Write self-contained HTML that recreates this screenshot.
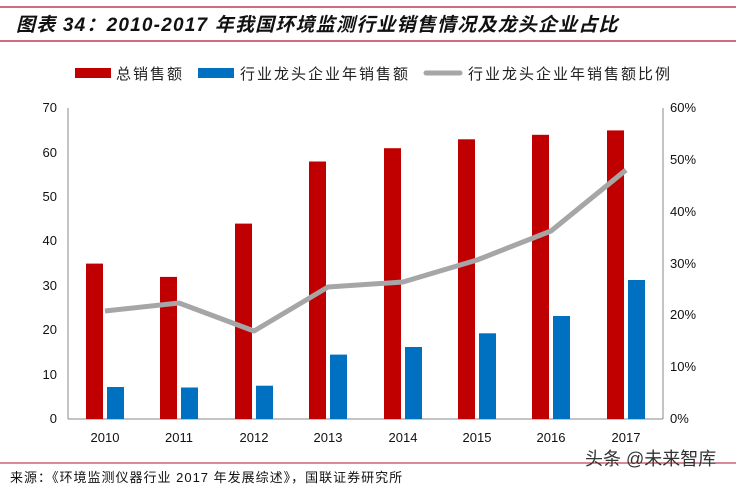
<!DOCTYPE html>
<html><head><meta charset="utf-8"><style>
body{margin:0;background:#fff;width:736px;height:489px;overflow:hidden}
svg text{font-family:"Liberation Sans","Noto Sans CJK SC",sans-serif}
</style></head><body>
<svg width="736" height="489" xmlns="http://www.w3.org/2000/svg">
<line x1="0" y1="7" x2="736" y2="7" stroke="#b5142e" stroke-width="1.2"/>
<line x1="0" y1="41" x2="736" y2="41" stroke="#b5142e" stroke-width="1.2"/>
<text x="16" y="31" font-size="19" font-weight="bold" font-style="italic" fill="#111" letter-spacing="1.2">图表 34：2010-2017 年我国环境监测行业销售情况及龙头企业占比</text>
<rect x="75" y="68" width="36" height="10" fill="#c00000"/>
<text x="116" y="79" font-size="15" fill="#222" letter-spacing="2">总销售额</text>
<rect x="198" y="68" width="36" height="10" fill="#0070c0"/>
<text x="240" y="79" font-size="15" fill="#222" letter-spacing="2">行业龙头企业年销售额</text>
<line x1="426" y1="73" x2="460" y2="73" stroke="#a6a6a6" stroke-width="5" stroke-linecap="round"/>
<text x="468" y="79" font-size="15" fill="#222" letter-spacing="2">行业龙头企业年销售额比例</text>
<g stroke="#888" stroke-width="1">
<line x1="68" y1="108" x2="68" y2="419"/>
<line x1="663" y1="108" x2="663" y2="419"/>
<line x1="68" y1="419" x2="663" y2="419"/>
</g>
<g font-size="13" fill="#111" text-anchor="end">
<text x="57" y="423">0</text><text x="57" y="379">10</text><text x="57" y="334">20</text><text x="57" y="290">30</text><text x="57" y="245">40</text><text x="57" y="201">50</text><text x="57" y="157">60</text><text x="57" y="112">70</text>
</g>
<g font-size="13" fill="#111">
<text x="670" y="423">0%</text><text x="670" y="371">10%</text><text x="670" y="319">20%</text><text x="670" y="268">30%</text><text x="670" y="216">40%</text><text x="670" y="164">50%</text><text x="670" y="112">60%</text>
</g>
<g font-size="13" fill="#111" text-anchor="middle">
<text x="105" y="442">2010</text><text x="179" y="442">2011</text><text x="254" y="442">2012</text><text x="328" y="442">2013</text><text x="403" y="442">2014</text><text x="477" y="442">2015</text><text x="551" y="442">2016</text><text x="626" y="442">2017</text>
</g>
<g fill="#c00000">
<rect x="86" y="263.6" width="17" height="155.4"/>
<rect x="160" y="276.9" width="17" height="142.1"/>
<rect x="235" y="223.6" width="17" height="195.4"/>
<rect x="309" y="161.5" width="17" height="257.5"/>
<rect x="384" y="148.2" width="17" height="270.8"/>
<rect x="458" y="139.3" width="17" height="279.7"/>
<rect x="532" y="134.8" width="17" height="284.2"/>
<rect x="607" y="130.4" width="17" height="288.6"/>
</g>
<g fill="#0070c0">
<rect x="107" y="387" width="17" height="32"/>
<rect x="181" y="387.5" width="17" height="31.5"/>
<rect x="256" y="385.7" width="17" height="33.3"/>
<rect x="330" y="354.6" width="17" height="64.4"/>
<rect x="405" y="347" width="17" height="72"/>
<rect x="479" y="333.3" width="17" height="85.7"/>
<rect x="553" y="316" width="17" height="103"/>
<rect x="628" y="280" width="17" height="139"/>
</g>
<polyline points="105,311 179,303 254,331 328,287 403,282 477,260 551,231 626,170" fill="none" stroke="#a6a6a6" stroke-width="5" stroke-linejoin="round"/>
<line x1="0" y1="463" x2="736" y2="463" stroke="#b5142e" stroke-width="1"/>
<text x="10" y="482" font-size="13" fill="#111" letter-spacing="1">来源：《环境监测仪器行业 2017 年发展综述》，国联证券研究所</text>
<text x="585" y="465" font-size="18" fill="#333">头条 @未来智库</text>
</svg>
</body></html>
